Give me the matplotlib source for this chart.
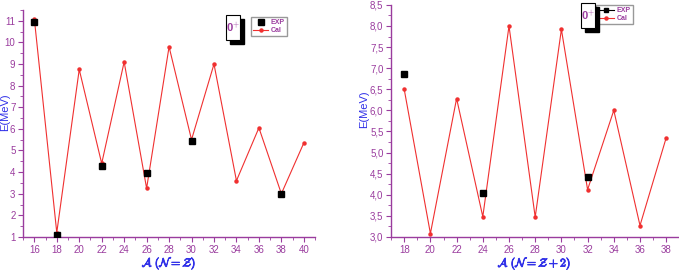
import matplotlib
matplotlib.use("Agg")
import matplotlib.pyplot as plt
from matplotlib.ticker import MultipleLocator, FuncFormatter
from matplotlib.patches import Rectangle
from matplotlib.lines import Line2D
import matplotlib.patheffects as pe

# Left panel: N = Z
A_left = [16, 18, 20, 22, 24, 26, 28, 30, 32, 34, 36, 38, 40]
cal_left = [11.1, 1.2, 8.75, 4.4, 9.1, 3.25, 9.8, 5.5, 9.0, 3.6, 6.05, 3.0, 5.35]
A_exp_left = [16, 18, 22, 26, 30, 38]
exp_left = [10.95, 1.1, 4.3, 3.97, 5.42, 3.0]

# Right panel: N = Z + 2
A_right = [18, 20, 22, 24, 26, 28, 30, 32, 34, 36, 38]
cal_right = [6.5, 3.08, 6.28, 3.48, 8.0, 3.47, 7.92, 4.12, 6.0, 3.27, 5.35]
A_exp_right = [18, 24, 32]
exp_right = [6.87, 4.05, 4.42]

PURPLE = "#9a3c9e"
BLUE = "#3030e8"
RED = "#f03030"

plt.rcParams['mathtext.fontset'] = 'cm'
plt.rcParams['font.family'] = ['Liberation Sans', 'DejaVu Sans']
fig = plt.figure(figsize=(6.79, 2.72), dpi=100)
ax1 = fig.add_axes([0.034, 0.129, 0.430, 0.834])
ax2 = fig.add_axes([0.576, 0.129, 0.4225, 0.853])

def style(ax, xlim, ylim, ymaj, ymin, fmt):
    ax.set_xlim(*xlim)
    ax.set_ylim(*ylim)
    for s in ['top', 'right']:
        ax.spines[s].set_visible(False)
    for s in ['left', 'bottom']:
        ax.spines[s].set_color(PURPLE)
        ax.spines[s].set_linewidth(1.0)
    ax.xaxis.set_major_locator(MultipleLocator(2))
    ax.xaxis.set_minor_locator(MultipleLocator(1))
    ax.yaxis.set_major_locator(MultipleLocator(ymaj))
    ax.yaxis.set_minor_locator(MultipleLocator(ymin))
    ax.yaxis.set_major_formatter(FuncFormatter(fmt))
    ax.tick_params(which='both', colors=PURPLE, labelcolor=PURPLE, labelsize=7, direction='out')
    ax.tick_params(which='major', length=3.5, width=0.8, pad=2.0)
    ax.tick_params(which='minor', length=2, width=0.6)

bold_fx = [pe.withStroke(linewidth=0.6, foreground=BLUE)]

# Left
ax1.plot(A_left, cal_left, '-o', color=RED, lw=0.8, ms=2.2, label='Cal', zorder=2)
ax1.plot(A_exp_left, exp_left, 's', color='black', ms=4.5, ls='none', label='EXP', zorder=3)
style(ax1, (15, 41), (1, 11.5), 1, 0.5, lambda v, p: f"{int(round(v))}")
ax1.set_ylabel('E(MeV)', color=BLUE, fontsize=8)
ax1.yaxis.set_label_coords(-0.045, 0.55)
ax1.set_xlabel(r'$\mathcal{A}\ (\mathcal{N} = \mathcal{Z})$', color=BLUE, fontsize=8.5,
               path_effects=bold_fx)
ax1.xaxis.set_label_coords(0.5, -0.117)
ax1.xaxis.label.set_va('center')
h, l = ax1.get_legend_handles_labels()
leg1 = ax1.legend([h[1], h[0]], ['EXP', 'Cal'], loc='upper left', bbox_to_anchor=(0.78, 0.97),
                  fontsize=5, frameon=True, fancybox=False, edgecolor='gray', handlelength=2.2,
                  borderpad=0.3, labelspacing=0.2, handletextpad=0.4, borderaxespad=0)
for t in leg1.get_texts():
    t.set_color(PURPLE); t.set_fontweight('bold')

# Right
ax2.plot(A_right, cal_right, '-o', color=RED, lw=0.8, ms=2.2, label='Cal', zorder=2)
ax2.plot(A_exp_right, exp_right, 's', color='black', ms=4.5, ls='none', label='EXP', zorder=3)
style(ax2, (17, 38.9), (3.0, 8.5), 0.5, 0.25, lambda v, p: f"{v:.1f}".replace('.', ','))
ax2.set_ylabel('E(MeV)', color=BLUE, fontsize=8)
ax2.yaxis.set_label_coords(-0.075, 0.55)
ax2.set_xlabel(r'$\mathcal{A}\ (\mathcal{N} = \mathcal{Z} + 2)$', color=BLUE, fontsize=8.5,
               path_effects=bold_fx)
ax2.xaxis.set_label_coords(0.5, -0.115)
ax2.xaxis.label.set_va('center')
exp_handle = Line2D([], [], color='black', marker='s', ms=3.5, lw=0.8)
cal_handle = Line2D([], [], color=RED, marker='o', ms=2.2, lw=0.8)
leg2 = ax2.legend([exp_handle, cal_handle], ['EXP', 'Cal'], loc='upper left', bbox_to_anchor=(0.715, 1.0),
                  fontsize=5, frameon=True, fancybox=False, edgecolor='gray', handlelength=2.2,
                  borderpad=0.3, labelspacing=0.2, handletextpad=0.4, borderaxespad=0)
for t in leg2.get_texts():
    t.set_color(PURPLE); t.set_fontweight('bold')

# "0+" boxes with shadow
def zero_box(x0, y0, w, h):
    fig.add_artist(Rectangle((x0 + 4 / 679, y0 - 4 / 272), w, h, transform=fig.transFigure,
                             facecolor='black', edgecolor='black', zorder=5))
    fig.add_artist(Rectangle((x0, y0), w, h, transform=fig.transFigure,
                             facecolor='white', edgecolor='black', lw=0.8, zorder=6))
    fig.text(x0 + w / 2, y0 + h / 2, r'0$^{+}$', color=PURPLE, fontsize=8, fontweight='bold',
             ha='center', va='center', zorder=7)

zero_box(226 / 679, 1 - 40 / 272, 14 / 679, 25 / 272)
zero_box(581 / 679, 1 - 28 / 272, 14 / 679, 25 / 272)

fig.savefig('out.png', dpi=100)
